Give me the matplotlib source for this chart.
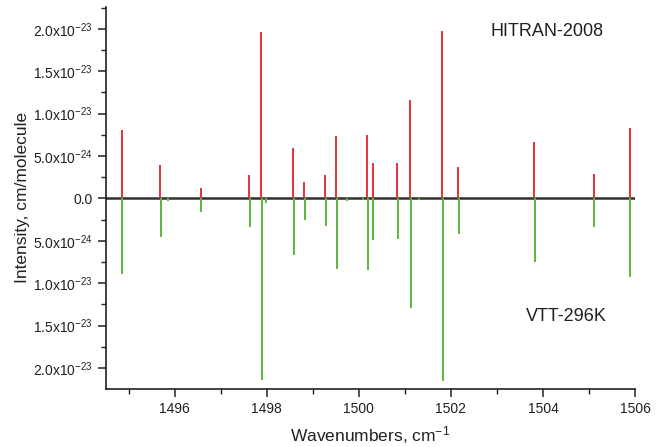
import math
import matplotlib
matplotlib.use("Agg")
import matplotlib.pyplot as plt
from matplotlib.ticker import FuncFormatter, FixedLocator

plt.rcParams['font.family'] = ['Liberation Sans', 'DejaVu Sans']
plt.rcParams['mathtext.fontset'] = 'custom'
plt.rcParams['mathtext.rm'] = 'Liberation Sans'
plt.rcParams['mathtext.it'] = 'Liberation Sans:italic'
plt.rcParams['mathtext.bf'] = 'Liberation Sans:bold'

# HITRAN-2008 lines (wavenumber, cm-1; intensity, cm/molecule)
hitran_wn = [1494.85, 1495.68, 1496.56, 1497.62, 1497.88, 1498.58, 1498.81,
             1499.27, 1499.51, 1500.17, 1500.30, 1500.83, 1501.12, 1501.81,
             1502.15, 1503.81, 1505.11, 1505.90]
hitran_int = [0.805e-23, 0.39e-23, 0.118e-23, 0.275e-23, 1.965e-23, 0.59e-23,
              0.196e-23, 0.275e-23, 0.735e-23, 0.746e-23, 0.42e-23, 0.42e-23,
              1.16e-23, 1.973e-23, 0.366e-23, 0.667e-23, 0.287e-23, 0.83e-23]

# VTT-296K lines (plotted downward)
vtt_wn = [1494.86, 1495.70, 1495.86, 1496.57, 1497.64, 1497.89, 1497.98,
          1498.60, 1498.83, 1499.29, 1499.52, 1499.75, 1500.10, 1500.19,
          1500.31, 1500.85, 1501.13, 1501.30, 1501.82, 1502.17, 1503.83,
          1505.12, 1505.90]
vtt_int = [0.896e-23, 0.46e-23, 0.03e-23, 0.165e-23, 0.335e-23, 2.146e-23,
           0.06e-23, 0.665e-23, 0.252e-23, 0.327e-23, 0.83e-23, 0.03e-23,
           0.02e-23, 0.844e-23, 0.488e-23, 0.483e-23, 1.294e-23, 0.02e-23,
           2.158e-23, 0.417e-23, 0.751e-23, 0.335e-23, 0.925e-23]

x_major = [1496, 1498, 1500, 1502, 1504, 1506]
x_minor = [1495, 1497, 1499, 1501, 1503, 1505]
y_major = [-2.0e-23, -1.5e-23, -1.0e-23, -0.5e-23, 0.0,
           0.5e-23, 1.0e-23, 1.5e-23, 2.0e-23]
y_minor = [-2.25e-23, -1.75e-23, -1.25e-23, -0.75e-23, -0.25e-23,
           0.25e-23, 0.75e-23, 1.25e-23, 1.75e-23, 2.25e-23]

fig = plt.figure(figsize=(6.62, 4.47), dpi=100)
ax = fig.add_axes([0.1597, 0.1304, 0.7995, 0.8546])

ax.axhline(0, color='#303030', lw=1.8, zorder=1)
ax.vlines(hitran_wn, 0, hitran_int, colors='#e8303a', lw=1.4, zorder=2)
ax.vlines(vtt_wn, 0, [-v for v in vtt_int], colors='#5cb83a', lw=1.4, zorder=2)

ax.set_xlim(1494.5, 1506.0)
ax.set_ylim(-2.245e-23, 2.26e-23)

ax.xaxis.set_major_locator(FixedLocator(x_major))
ax.xaxis.set_minor_locator(FixedLocator(x_minor))
ax.yaxis.set_major_locator(FixedLocator(y_major))
ax.yaxis.set_minor_locator(FixedLocator(y_minor))


def yfmt(v, pos):
    v = abs(v)
    if v < 1e-30:
        return '0.0'
    exp = int(math.floor(math.log10(v) + 1e-9))
    m = v / 10 ** exp
    return '%.1fx10$^{%d}$' % (m, exp)


ax.yaxis.set_major_formatter(FuncFormatter(yfmt))
ax.xaxis.set_major_formatter(FuncFormatter(lambda v, p: '%d' % round(v)))

for s in ['top', 'right']:
    ax.spines[s].set_visible(False)
for s in ['left', 'bottom']:
    ax.spines[s].set_linewidth(1.2)
    ax.spines[s].set_color('#202020')

ax.tick_params(which='major', direction='out', length=6, width=1.1,
               labelsize=10, colors='#202020')
ax.tick_params(which='minor', direction='out', length=3.5, width=1.0,
               colors='#202020')

ax.set_ylabel('Intensity, cm/molecule', fontsize=12.5, color='#202020', labelpad=2)
ax.set_xlabel('Wavenumbers, cm$^{-1}$', fontsize=12.5, color='#202020', labelpad=6)

ax.text(0.834, 0.934, 'HITRAN-2008', transform=ax.transAxes, fontsize=13,
        ha='center', va='center', color='#202020')
ax.text(0.871, 0.188, 'VTT-296K', transform=ax.transAxes, fontsize=13,
        ha='center', va='center', color='#202020')

fig.savefig('out.png', dpi=100)
